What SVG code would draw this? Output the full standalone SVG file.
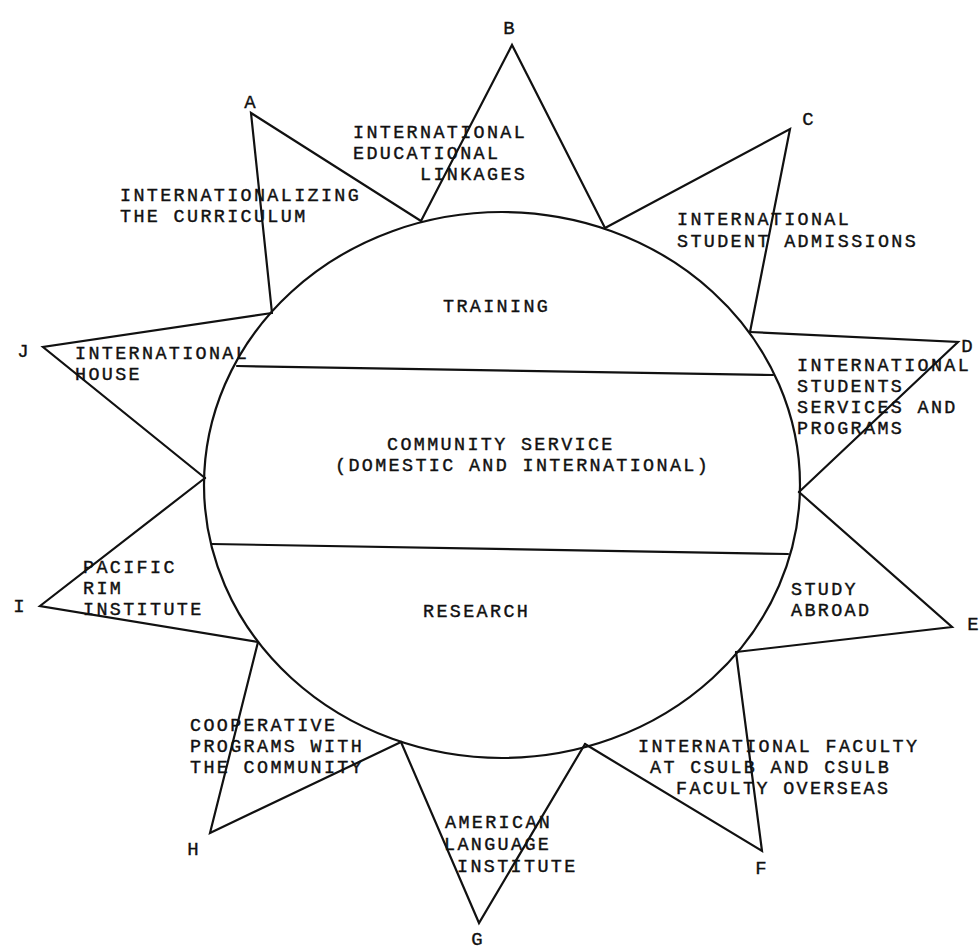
<svg xmlns="http://www.w3.org/2000/svg" width="980" height="951" viewBox="0 0 980 951">
<style>
  .ln { fill: none; stroke: #111111; stroke-width: 2.2; stroke-linejoin: miter; stroke-linecap: round; }
  .t { font-family: "Liberation Mono", "DejaVu Sans Mono", monospace; font-size: 18.4px; letter-spacing: 2.36px; fill: #111111; stroke: #111111; stroke-width: 0.4px; }
  .lbl { font-family: "Liberation Mono", "DejaVu Sans Mono", monospace; font-size: 19px; fill: #111111; stroke: #111111; stroke-width: 0.35px; text-anchor: middle; }
</style>
<rect width="980" height="951" fill="#ffffff"/>

<g id="center">
  <ellipse class="ln" cx="502" cy="485" rx="298" ry="273"/>
  <line class="ln" x1="237" y1="366" x2="773" y2="375"/>
  <line class="ln" x1="212" y1="544" x2="788" y2="554"/>
  <text class="t" x="443" y="312">TRAINING</text>
  <text class="t"><tspan x="387" y="450">COMMUNITY SERVICE</tspan><tspan x="335" y="471">(DOMESTIC AND INTERNATIONAL)</tspan></text>
  <text class="t" x="423" y="617">RESEARCH</text>
</g>

<g id="connectors">
</g>

<g id="ray-A">
  <polyline class="ln" points="272,313 251,113 421,221"/>
  <text class="lbl" x="250" y="108">A</text>
  <text class="t"><tspan x="120" y="201">INTERNATIONALIZING</tspan><tspan x="120" y="222">THE CURRICULUM</tspan></text>
</g>

<g id="ray-B">
  <polyline class="ln" points="421,221 512,45 605,228"/>
  <text class="lbl" x="509" y="34">B</text>
  <text class="t"><tspan x="353" y="138">INTERNATIONAL</tspan><tspan x="353" y="159">EDUCATIONAL</tspan><tspan x="420" y="180">LINKAGES</tspan></text>
</g>

<g id="ray-C">
  <polyline class="ln" points="605,228 790,129 750,332"/>
  <text class="lbl" x="808" y="125">C</text>
  <text class="t"><tspan x="677" y="225">INTERNATIONAL</tspan><tspan x="677" y="247">STUDENT ADMISSIONS</tspan></text>
</g>

<g id="ray-D">
  <polyline class="ln" points="750,332 958,342 799,492"/>
  <text class="lbl" x="967" y="352">D</text>
  <text class="t"><tspan x="797" y="371">INTERNATIONAL</tspan><tspan x="797" y="392">STUDENTS</tspan><tspan x="797" y="413">SERVICES AND</tspan><tspan x="797" y="434">PROGRAMS</tspan></text>
</g>

<g id="ray-E">
  <polyline class="ln" points="799,492 952,627 736,652"/>
  <text class="lbl" x="973" y="630">E</text>
  <text class="t"><tspan x="791" y="595">STUDY</tspan><tspan x="791" y="616">ABROAD</tspan></text>
</g>

<g id="ray-F">
  <polyline class="ln" points="736,652 762,851 585,744"/>
  <text class="lbl" x="761" y="874">F</text>
  <text class="t"><tspan x="638" y="752">INTERNATIONAL FACULTY</tspan><tspan x="650" y="773">AT CSULB AND CSULB</tspan><tspan x="676" y="794">FACULTY OVERSEAS</tspan></text>
</g>

<g id="ray-G">
  <polyline class="ln" points="585,744 479,923 401,742"/>
  <text class="lbl" x="477" y="945">G</text>
  <text class="t"><tspan x="445" y="828">AMERICAN</tspan><tspan x="444" y="850">LANGUAGE</tspan><tspan x="457" y="872">INSTITUTE</tspan></text>
</g>

<g id="ray-H">
  <polyline class="ln" points="401,742 210,833 258,642"/>
  <text class="lbl" x="193" y="855">H</text>
  <text class="t"><tspan x="190" y="731">COOPERATIVE</tspan><tspan x="190" y="752">PROGRAMS WITH</tspan><tspan x="190" y="773">THE COMMUNITY</tspan></text>
</g>

<g id="ray-I">
  <polyline class="ln" points="258,642 40,606 205,478"/>
  <text class="lbl" x="19" y="612">I</text>
  <text class="t"><tspan x="83" y="573">PACIFIC</tspan><tspan x="83" y="594">RIM</tspan><tspan x="83" y="615">INSTITUTE</tspan></text>
</g>

<g id="ray-J">
  <polyline class="ln" points="205,478 43,347 272,313"/>
  <text class="lbl" x="23" y="357">J</text>
  <text class="t"><tspan x="75" y="359">INTERNATIONAL</tspan><tspan x="75" y="380">HOUSE</tspan></text>
</g>
</svg>
